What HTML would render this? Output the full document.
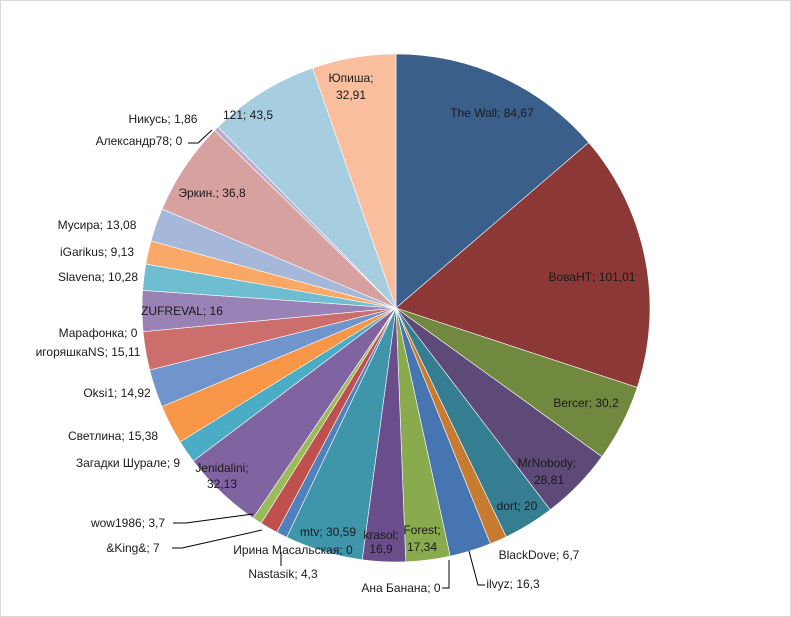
<!DOCTYPE html>
<html><head><meta charset="utf-8"><style>
html,body{margin:0;padding:0;background:#fff;}
svg{display:block;}
text{font-family:"Liberation Sans","DejaVu Sans",sans-serif;font-size:12px;fill:#1a1a1a;}
</style></head><body>
<svg id="s" width="791" height="617" xmlns="http://www.w3.org/2000/svg">
<rect x="0.5" y="0.5" width="790" height="616" fill="#fff" stroke="#d9d9d9"/>
<g id="p"></g>
<g stroke="#000" stroke-width="1" fill="none">
<polyline points="188,143 198,143 212,130"/>
<polyline points="173,523 186,523 253,514"/>
<polyline points="172,548 182,548 262,530"/>
<polyline points="281,566 281,552"/>
<polyline points="442,588 449,588 449,560"/>
<polyline points="485,585 478,585 469,551"/>
</g>
<g text-anchor="middle">
<text x="492" y="117">The Wall; 84,67</text>
<text x="592" y="281">ВоваНТ; 101,01</text>
<text x="586" y="407">Bercer; 30,2</text>
<text x="547" y="467">MrNobody;</text><text x="549" y="484">28,81</text>
<text x="517" y="510">dort; 20</text>
<text x="539" y="559">BlackDove; 6,7</text>
<text x="513" y="588">ilvyz; 16,3</text>
<text x="401" y="592">Ана Банана; 0</text>
<text x="422" y="534">Forest;</text><text x="422" y="551">17,34</text>
<text x="381" y="539">krasol;</text><text x="381" y="553">16,9</text>
<text x="328" y="536">mtv; 30,59</text>
<text x="293" y="554">Ирина Масальская; 0</text>
<text x="283" y="578">Nastasik; 4,3</text>
<text x="133" y="552">&amp;King&amp;; 7</text>
<text x="128" y="527">wow1986; 3,7</text>
<text x="222" y="472">Jenidalini;</text><text x="222" y="488">32,13</text>
<text x="128" y="467">Загадки Шурале; 9</text>
<text x="113" y="440">Светлина; 15,38</text>
<text x="117" y="397">Oksi1; 14,92</text>
<text x="88" y="356">игоряшкаNS; 15,11</text>
<text x="98" y="337">Марафонка; 0</text>
<text x="182" y="315">ZUFREVAL;  16</text>
<text x="98" y="281">Slavena; 10,28</text>
<text x="97" y="256">iGarikus; 9,13</text>
<text x="97" y="229">Мусира; 13,08</text>
<text x="212" y="197">Эркин.; 36,8</text>
<text x="139" y="145">Александр78; 0</text>
<text x="163" y="123">Никусь; 1,86</text>
<text x="248" y="119">121; 43,5</text>
<text x="351" y="82">Юпиша;</text><text x="351" y="99">32,91</text>
</g>
</svg>
<script>
var d=[[84.67,"#3A5F8B"],[101.01,"#8C3836"],[30.2,"#71893F"],[28.81,"#5D4A78"],[20,"#357E92"],[6.7,"#C77B30"],[16.3,"#4675B2"],[0,"#c00"],[17.34,"#8AAA4E"],[16.9,"#6A4E8C"],[30.59,"#3F96AB"],[0,"#c00"],[4.3,"#4F81BD"],[7,"#C0504D"],[3.7,"#9BBB59"],[32.13,"#8064A2"],[9,"#4BACC6"],[15.38,"#F79646"],[14.92,"#7094CC"],[15.11,"#CC6F6C"],[0,"#c00"],[16,"#9982B5"],[10.28,"#6FBDD1"],[9.13,"#F9A868"],[13.08,"#A5B8DA"],[36.8,"#D7A1A0"],[0,"#c00"],[1.86,"#B9ACCC"],[43.5,"#A7CDE0"],[32.91,"#F8BE9E"]];
var tot=0;d.forEach(function(e){tot+=e[0];});
var cx=396,cy=308,r=254,a=0,h="";
d.forEach(function(e){if(!e[0])return;var b=a+e[0]/tot*2*Math.PI;
var x1=cx+r*Math.sin(a),y1=cy-r*Math.cos(a),x2=cx+r*Math.sin(b),y2=cy-r*Math.cos(b);
h+='<path d="M'+cx+','+cy+'L'+x1.toFixed(2)+','+y1.toFixed(2)+'A'+r+','+r+' 0 '+((b-a)>Math.PI?1:0)+' 1 '+x2.toFixed(2)+','+y2.toFixed(2)+'Z" fill="'+e[1]+'" stroke="#fff" stroke-width="0.6"/>';a=b;});
document.getElementById("p").innerHTML=h;
</script>
</body></html>
